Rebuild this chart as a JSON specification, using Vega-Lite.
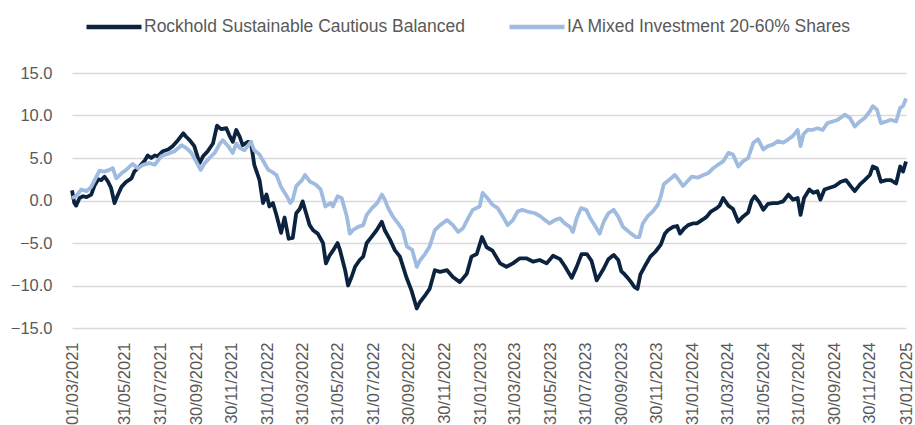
{
  "$schema": "https://vega.github.io/schema/vega-lite/v6.json",
  "width": 834,
  "height": 255,
  "autosize": {"type": "none"},
  "padding": {"left": 72, "top": 73, "right": 9, "bottom": 97},
  "background": "white",
  "config": {
    "view": {"stroke": null},
    "font": "Liberation Sans"
  },
  "datasets": {
    "rock": [
      {"d":"2021-03-01","v":1.2},{"d":"2021-03-05","v":-0.3},{"d":"2021-03-08","v":-0.6},{"d":"2021-03-14","v":0.3},{"d":"2021-03-20","v":0.5},{"d":"2021-03-26","v":0.4},
      {"d":"2021-04-03","v":0.7},{"d":"2021-04-09","v":1.8},{"d":"2021-04-15","v":2.5},{"d":"2021-04-20","v":2.4},{"d":"2021-04-26","v":2.8},
      {"d":"2021-05-02","v":2.2},{"d":"2021-05-07","v":1.5},{"d":"2021-05-13","v":-0.3},{"d":"2021-05-19","v":0.7},{"d":"2021-05-25","v":1.6},
      {"d":"2021-06-02","v":2.2},{"d":"2021-06-11","v":2.6},{"d":"2021-06-16","v":3.4},{"d":"2021-06-25","v":4.0},
      {"d":"2021-07-04","v":4.7},{"d":"2021-07-09","v":5.3},{"d":"2021-07-15","v":5.0},{"d":"2021-07-21","v":5.3},{"d":"2021-07-26","v":5.2},
      {"d":"2021-08-04","v":5.8},{"d":"2021-08-13","v":6.0},{"d":"2021-08-21","v":6.4},{"d":"2021-08-30","v":7.1},
      {"d":"2021-09-08","v":7.9},{"d":"2021-09-13","v":7.5},{"d":"2021-09-19","v":7.1},{"d":"2021-09-27","v":6.4},
      {"d":"2021-10-06","v":4.4},{"d":"2021-10-12","v":5.2},{"d":"2021-10-20","v":5.8},{"d":"2021-10-29","v":6.7},
      {"d":"2021-11-05","v":8.8},{"d":"2021-11-12","v":8.4},{"d":"2021-11-21","v":8.5},{"d":"2021-11-26","v":7.7},
      {"d":"2021-12-02","v":6.9},{"d":"2021-12-08","v":8.3},{"d":"2021-12-14","v":7.5},{"d":"2021-12-19","v":6.5},{"d":"2021-12-28","v":6.9},
      {"d":"2022-01-02","v":6.9},{"d":"2022-01-08","v":4.2},{"d":"2022-01-17","v":2.4},{"d":"2022-01-23","v":-0.3},{"d":"2022-01-29","v":0.7},
      {"d":"2022-02-03","v":-0.7},{"d":"2022-02-09","v":-0.3},{"d":"2022-02-15","v":-1.7},{"d":"2022-02-23","v":-3.8},
      {"d":"2022-03-01","v":-2.0},{"d":"2022-03-08","v":-4.5},{"d":"2022-03-15","v":-4.4},{"d":"2022-03-21","v":-1.5},{"d":"2022-03-27","v":-1.0},
      {"d":"2022-04-01","v":-0.1},{"d":"2022-04-07","v":-1.5},{"d":"2022-04-13","v":-2.9},{"d":"2022-04-19","v":-3.5},{"d":"2022-04-27","v":-3.9},
      {"d":"2022-05-06","v":-5.0},{"d":"2022-05-11","v":-7.4},{"d":"2022-05-17","v":-6.5},{"d":"2022-05-23","v":-5.9},{"d":"2022-05-31","v":-5.0},
      {"d":"2022-06-04","v":-5.8},{"d":"2022-06-13","v":-8.2},{"d":"2022-06-18","v":-10.0},{"d":"2022-06-24","v":-9.0},{"d":"2022-06-30","v":-7.8},
      {"d":"2022-07-08","v":-7.0},{"d":"2022-07-14","v":-6.6},{"d":"2022-07-20","v":-5.0},{"d":"2022-07-28","v":-4.3},
      {"d":"2022-08-06","v":-3.5},{"d":"2022-08-15","v":-2.5},{"d":"2022-08-20","v":-3.5},{"d":"2022-08-29","v":-4.6},
      {"d":"2022-09-06","v":-5.8},{"d":"2022-09-15","v":-6.6},{"d":"2022-09-26","v":-9.0},
      {"d":"2022-10-05","v":-10.6},{"d":"2022-10-14","v":-12.7},{"d":"2022-10-19","v":-12.0},{"d":"2022-10-28","v":-11.2},
      {"d":"2022-11-05","v":-10.4},{"d":"2022-11-14","v":-8.2},{"d":"2022-11-23","v":-8.4},
      {"d":"2022-12-05","v":-8.2},{"d":"2022-12-15","v":-9.0},{"d":"2022-12-27","v":-9.6},
      {"d":"2023-01-08","v":-8.6},{"d":"2023-01-16","v":-6.6},{"d":"2023-01-25","v":-6.3},
      {"d":"2023-02-03","v":-4.3},{"d":"2023-02-11","v":-5.5},{"d":"2023-02-21","v":-5.9},
      {"d":"2023-03-06","v":-7.4},{"d":"2023-03-17","v":-7.8},{"d":"2023-03-28","v":-7.4},
      {"d":"2023-04-09","v":-6.8},{"d":"2023-04-20","v":-6.8},{"d":"2023-05-02","v":-7.2},{"d":"2023-05-13","v":-7.0},{"d":"2023-05-25","v":-7.4},
      {"d":"2023-06-05","v":-6.5},{"d":"2023-06-17","v":-6.9},{"d":"2023-06-25","v":-7.7},
      {"d":"2023-07-07","v":-9.1},{"d":"2023-07-15","v":-7.9},{"d":"2023-07-24","v":-6.3},
      {"d":"2023-08-02","v":-6.3},{"d":"2023-08-10","v":-7.1},{"d":"2023-08-19","v":-9.4},{"d":"2023-08-31","v":-8.0},
      {"d":"2023-09-08","v":-6.9},{"d":"2023-09-17","v":-6.4},{"d":"2023-09-25","v":-7.0},{"d":"2023-09-30","v":-8.3},
      {"d":"2023-10-06","v":-8.7},{"d":"2023-10-11","v":-9.1},{"d":"2023-10-17","v":-9.6},{"d":"2023-10-23","v":-10.2},{"d":"2023-10-28","v":-10.4},
      {"d":"2023-11-02","v":-8.7},{"d":"2023-11-09","v":-7.8},{"d":"2023-11-19","v":-6.6},{"d":"2023-11-28","v":-6.0},
      {"d":"2023-12-07","v":-5.2},{"d":"2023-12-14","v":-3.9},{"d":"2023-12-19","v":-3.5},{"d":"2023-12-28","v":-3.1},
      {"d":"2024-01-04","v":-3.0},{"d":"2024-01-09","v":-3.9},{"d":"2024-01-16","v":-3.3},{"d":"2024-01-23","v":-2.9},{"d":"2024-01-31","v":-2.7},
      {"d":"2024-02-07","v":-2.7},{"d":"2024-02-18","v":-2.2},{"d":"2024-02-24","v":-1.9},
      {"d":"2024-03-02","v":-1.3},{"d":"2024-03-12","v":-0.9},{"d":"2024-03-17","v":-0.6},{"d":"2024-03-23","v":0.3},
      {"d":"2024-04-01","v":-0.6},{"d":"2024-04-09","v":-1.0},{"d":"2024-04-18","v":-2.5},{"d":"2024-04-26","v":-1.9},
      {"d":"2024-05-05","v":-1.4},{"d":"2024-05-11","v":0.0},{"d":"2024-05-16","v":0.5},{"d":"2024-05-24","v":-0.2},{"d":"2024-05-31","v":-1.1},
      {"d":"2024-06-08","v":-0.4},{"d":"2024-06-17","v":-0.3},{"d":"2024-06-25","v":-0.3},
      {"d":"2024-07-04","v":-0.1},{"d":"2024-07-13","v":0.7},{"d":"2024-07-21","v":0.1},{"d":"2024-07-29","v":0.3},
      {"d":"2024-08-03","v":-1.7},{"d":"2024-08-09","v":0.3},{"d":"2024-08-18","v":1.3},{"d":"2024-08-25","v":0.9},
      {"d":"2024-09-01","v":1.1},{"d":"2024-09-06","v":0.1},{"d":"2024-09-13","v":1.3},{"d":"2024-09-22","v":1.5},
      {"d":"2024-10-01","v":1.7},{"d":"2024-10-11","v":2.2},{"d":"2024-10-20","v":2.4},{"d":"2024-10-29","v":1.6},
      {"d":"2024-11-04","v":1.1},{"d":"2024-11-13","v":1.9},{"d":"2024-11-21","v":2.4},{"d":"2024-11-30","v":3.0},
      {"d":"2024-12-05","v":4.0},{"d":"2024-12-12","v":3.8},{"d":"2024-12-19","v":2.2},{"d":"2024-12-28","v":2.4},
      {"d":"2025-01-05","v":2.4},{"d":"2025-01-14","v":2.0},{"d":"2025-01-21","v":4.0},{"d":"2025-01-26","v":3.4},{"d":"2025-01-31","v":4.6}
    ],
    "ia": [
      {"d":"2021-03-01","v":0.3},{"d":"2021-03-08","v":0.5},{"d":"2021-03-17","v":1.3},{"d":"2021-03-26","v":1.1},
      {"d":"2021-04-03","v":1.6},{"d":"2021-04-12","v":2.8},{"d":"2021-04-17","v":3.5},{"d":"2021-04-26","v":3.4},
      {"d":"2021-05-04","v":3.6},{"d":"2021-05-10","v":3.8},{"d":"2021-05-16","v":2.6},{"d":"2021-05-25","v":3.2},
      {"d":"2021-06-02","v":3.6},{"d":"2021-06-13","v":4.3},{"d":"2021-06-22","v":3.8},
      {"d":"2021-07-01","v":4.2},{"d":"2021-07-12","v":4.4},{"d":"2021-07-21","v":4.2},
      {"d":"2021-08-01","v":5.2},{"d":"2021-08-13","v":5.5},{"d":"2021-08-24","v":5.8},
      {"d":"2021-09-05","v":6.5},{"d":"2021-09-13","v":6.2},{"d":"2021-09-22","v":5.6},{"d":"2021-09-30","v":4.6},
      {"d":"2021-10-08","v":3.6},{"d":"2021-10-15","v":4.4},{"d":"2021-10-23","v":5.0},
      {"d":"2021-11-01","v":5.6},{"d":"2021-11-10","v":6.7},{"d":"2021-11-15","v":7.1},{"d":"2021-11-24","v":6.4},
      {"d":"2021-12-02","v":5.6},{"d":"2021-12-08","v":6.7},{"d":"2021-12-14","v":6.2},{"d":"2021-12-22","v":5.9},
      {"d":"2022-01-02","v":6.9},{"d":"2022-01-08","v":5.9},{"d":"2022-01-17","v":5.4},{"d":"2022-01-27","v":4.2},
      {"d":"2022-02-01","v":3.6},{"d":"2022-02-09","v":3.3},{"d":"2022-02-15","v":3.0},{"d":"2022-02-23","v":1.6},
      {"d":"2022-03-05","v":0.5},{"d":"2022-03-11","v":-0.3},{"d":"2022-03-15","v":0.1},{"d":"2022-03-21","v":1.7},{"d":"2022-03-31","v":2.4},
      {"d":"2022-04-05","v":3.0},{"d":"2022-04-14","v":2.2},{"d":"2022-04-23","v":1.9},
      {"d":"2022-05-02","v":1.3},{"d":"2022-05-10","v":-0.7},{"d":"2022-05-19","v":-0.3},{"d":"2022-05-23","v":-0.7},{"d":"2022-05-31","v":0.5},
      {"d":"2022-06-07","v":0.3},{"d":"2022-06-16","v":-1.9},{"d":"2022-06-21","v":-3.9},{"d":"2022-06-26","v":-3.5},
      {"d":"2022-07-05","v":-3.1},{"d":"2022-07-14","v":-2.9},{"d":"2022-07-20","v":-1.7},{"d":"2022-07-29","v":-0.9},
      {"d":"2022-08-07","v":-0.3},{"d":"2022-08-15","v":0.7},{"d":"2022-08-20","v":0.1},{"d":"2022-08-26","v":-0.9},
      {"d":"2022-09-03","v":-1.9},{"d":"2022-09-12","v":-2.7},{"d":"2022-09-20","v":-3.5},{"d":"2022-09-27","v":-5.4},
      {"d":"2022-10-06","v":-5.8},{"d":"2022-10-14","v":-7.8},{"d":"2022-10-19","v":-7.1},{"d":"2022-10-28","v":-6.3},
      {"d":"2022-11-05","v":-5.4},{"d":"2022-11-14","v":-3.5},{"d":"2022-11-23","v":-2.9},
      {"d":"2022-12-05","v":-2.3},{"d":"2022-12-15","v":-2.9},{"d":"2022-12-24","v":-3.7},
      {"d":"2023-01-01","v":-3.3},{"d":"2023-01-10","v":-2.1},{"d":"2023-01-18","v":-1.1},{"d":"2023-01-30","v":-0.7},
      {"d":"2023-02-04","v":0.9},{"d":"2023-02-12","v":0.3},{"d":"2023-02-21","v":-0.5},
      {"d":"2023-03-02","v":-0.9},{"d":"2023-03-11","v":-1.9},{"d":"2023-03-19","v":-2.9},{"d":"2023-03-28","v":-2.3},
      {"d":"2023-04-05","v":-1.3},{"d":"2023-04-13","v":-1.1},{"d":"2023-04-22","v":-1.3},
      {"d":"2023-05-05","v":-1.5},{"d":"2023-05-15","v":-1.9},{"d":"2023-05-22","v":-2.3},{"d":"2023-05-30","v":-2.7},
      {"d":"2023-06-08","v":-2.3},{"d":"2023-06-17","v":-2.1},{"d":"2023-06-25","v":-2.7},
      {"d":"2023-07-04","v":-3.1},{"d":"2023-07-09","v":-3.7},{"d":"2023-07-16","v":-2.0},{"d":"2023-07-23","v":-0.9},
      {"d":"2023-08-01","v":-1.1},{"d":"2023-08-08","v":-2.1},{"d":"2023-08-17","v":-3.1},{"d":"2023-08-24","v":-3.9},{"d":"2023-08-31","v":-2.5},
      {"d":"2023-09-08","v":-1.5},{"d":"2023-09-17","v":-1.1},{"d":"2023-09-25","v":-1.9},
      {"d":"2023-10-03","v":-3.1},{"d":"2023-10-10","v":-3.5},{"d":"2023-10-17","v":-3.9},{"d":"2023-10-25","v":-4.3},{"d":"2023-10-31","v":-4.3},
      {"d":"2023-11-06","v":-2.7},{"d":"2023-11-15","v":-1.8},{"d":"2023-11-23","v":-1.3},
      {"d":"2023-12-02","v":-0.5},{"d":"2023-12-07","v":0.5},{"d":"2023-12-12","v":1.9},{"d":"2023-12-21","v":2.4},{"d":"2023-12-31","v":3.0},
      {"d":"2024-01-07","v":2.4},{"d":"2024-01-14","v":1.7},{"d":"2024-01-21","v":2.2},{"d":"2024-01-29","v":2.8},
      {"d":"2024-02-09","v":2.7},{"d":"2024-02-18","v":3.0},{"d":"2024-02-26","v":3.2},
      {"d":"2024-03-06","v":3.8},{"d":"2024-03-14","v":4.2},{"d":"2024-03-23","v":4.6},
      {"d":"2024-04-01","v":5.6},{"d":"2024-04-09","v":5.4},{"d":"2024-04-18","v":4.0},{"d":"2024-04-26","v":4.6},
      {"d":"2024-05-05","v":5.0},{"d":"2024-05-14","v":6.8},{"d":"2024-05-22","v":7.2},{"d":"2024-05-31","v":6.0},
      {"d":"2024-06-08","v":6.4},{"d":"2024-06-17","v":6.6},{"d":"2024-06-25","v":7.0},
      {"d":"2024-07-04","v":6.8},{"d":"2024-07-13","v":7.2},{"d":"2024-07-21","v":7.6},{"d":"2024-07-29","v":8.3},
      {"d":"2024-08-03","v":6.4},{"d":"2024-08-08","v":7.8},{"d":"2024-08-15","v":8.3},{"d":"2024-08-23","v":8.3},
      {"d":"2024-09-01","v":8.5},{"d":"2024-09-10","v":8.3},{"d":"2024-09-18","v":9.1},{"d":"2024-09-27","v":9.3},
      {"d":"2024-10-06","v":9.5},{"d":"2024-10-18","v":10.1},{"d":"2024-10-27","v":9.7},
      {"d":"2024-11-04","v":8.7},{"d":"2024-11-13","v":9.3},{"d":"2024-11-21","v":9.7},{"d":"2024-11-30","v":10.5},
      {"d":"2024-12-05","v":11.1},{"d":"2024-12-12","v":10.7},{"d":"2024-12-19","v":9.1},{"d":"2024-12-28","v":9.3},
      {"d":"2025-01-05","v":9.5},{"d":"2025-01-14","v":9.3},{"d":"2025-01-21","v":10.9},{"d":"2025-01-26","v":11.1},{"d":"2025-01-31","v":12.0}
    ]
  },
  "encoding": {
    "x": {
      "field": "d", "type": "temporal",
      "scale": {"type": "utc", "domain": [{"year": 2021, "month": 3, "date": 1, "utc": true}, {"year": 2025, "month": 1, "date": 31, "utc": true}]},
      "axis": {
        "title": null,
        "values": [
          {"year": 2021, "month": 3, "date": 1, "utc": true},
          {"year": 2021, "month": 5, "date": 31, "utc": true},
          {"year": 2021, "month": 7, "date": 31, "utc": true},
          {"year": 2021, "month": 9, "date": 30, "utc": true},
          {"year": 2021, "month": 11, "date": 30, "utc": true},
          {"year": 2022, "month": 1, "date": 31, "utc": true},
          {"year": 2022, "month": 3, "date": 31, "utc": true},
          {"year": 2022, "month": 5, "date": 31, "utc": true},
          {"year": 2022, "month": 7, "date": 31, "utc": true},
          {"year": 2022, "month": 9, "date": 30, "utc": true},
          {"year": 2022, "month": 11, "date": 30, "utc": true},
          {"year": 2023, "month": 1, "date": 31, "utc": true},
          {"year": 2023, "month": 3, "date": 31, "utc": true},
          {"year": 2023, "month": 5, "date": 31, "utc": true},
          {"year": 2023, "month": 7, "date": 31, "utc": true},
          {"year": 2023, "month": 9, "date": 30, "utc": true},
          {"year": 2023, "month": 11, "date": 30, "utc": true},
          {"year": 2024, "month": 1, "date": 31, "utc": true},
          {"year": 2024, "month": 3, "date": 31, "utc": true},
          {"year": 2024, "month": 5, "date": 31, "utc": true},
          {"year": 2024, "month": 7, "date": 31, "utc": true},
          {"year": 2024, "month": 9, "date": 30, "utc": true},
          {"year": 2024, "month": 11, "date": 30, "utc": true},
          {"year": 2025, "month": 1, "date": 31, "utc": true}
        ],
        "labelExpr": "utcFormat(datum.value, '%d/%m/%Y')",
        "labelAngle": -90,
        "labelAlign": "right",
        "labelBaseline": "middle",
        "labelFontSize": 16.5,
        "labelColor": "#595959",
        "labelPadding": 14,
        "labelFlush": false,
        "labelOverlap": false,
        "labelSeparation": 0,
        "labelBound": false,
        "ticks": false,
        "domain": false,
        "grid": false
      }
    },
    "y": {
      "field": "v", "type": "quantitative",
      "scale": {"domain": [-15, 15], "nice": false, "zero": false},
      "axis": {
        "title": null,
        "values": [-15, -10, -5, 0, 5, 10, 15],
        "format": ".1f",
        "labelFontSize": 16.5,
        "labelColor": "#595959",
        "labelPadding": 20,
        "ticks": false,
        "domain": false,
        "grid": true,
        "gridColor": "#d9d9d9",
        "gridWidth": 1.5
      }
    }
  },
  "layer": [
    {
      "data": {"name": "rock"},
      "mark": {"type": "line", "strokeWidth": 3.8, "strokeJoin": "round"},
      "encoding": {
        "color": {
          "datum": "Rockhold Sustainable Cautious Balanced",
          "type": "nominal",
          "scale": {
            "domain": ["Rockhold Sustainable Cautious Balanced", "IA Mixed Investment 20-60% Shares"],
            "range": ["#0c2340", "#9fbbe0"]
          },
          "legend": {
            "title": null,
            "orient": "none",
            "legendX": 12,
            "legendY": -76,
            "direction": "horizontal",
            "symbolType": "stroke",
            "symbolSize": 3025,
            "symbolStrokeWidth": 4.5,
            "labelFontSize": 17.5,
            "labelColor": "#595959",
            "labelOffset": 0,
            "labelLimit": 600,
            "columnPadding": 34
          }
        }
      }
    },
    {
      "data": {"name": "ia"},
      "mark": {"type": "line", "strokeWidth": 3.8, "strokeJoin": "round"},
      "encoding": {
        "color": {"datum": "IA Mixed Investment 20-60% Shares", "type": "nominal"}
      }
    }
  ]
}
